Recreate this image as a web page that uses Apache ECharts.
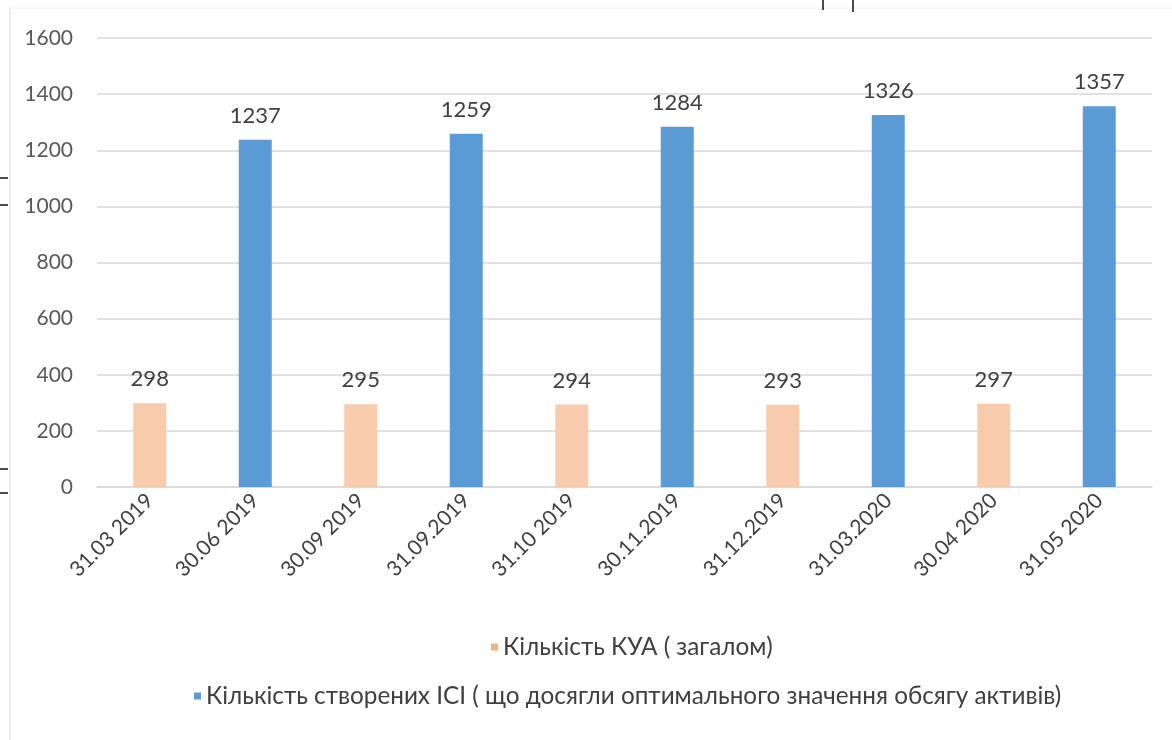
<!DOCTYPE html>
<html>
<head>
<meta charset="utf-8">
<script src="https://cdn.jsdelivr.net/npm/echarts@6/dist/echarts.min.js"></script>
<style>
  html, body { margin: 0; padding: 0; background: #ffffff; }
  #chart { width: 1172px; height: 740px; }
</style>
</head>
<body>
<div id="chart"></div>
<script>
// Reporting dates
const categories = ['31.03 2019', '30.06 2019', '30.09 2019', '31.09.2019', '31.10 2019',
                    '30.11.2019', '31.12.2019', '31.03.2020', '30.04 2020', '31.05 2020'];
// Number of asset management companies (total)
const kuaValues = [298, null, 295, null, 294, null, 293, null, 297, null];
// Number of created collective investment institutions
const iciValues = [null, 1237, null, 1259, null, 1284, null, 1326, null, 1357];
const yTicks = { min: 0, max: 1600, interval: 200 };

const kuaName = 'Кількість КУА ( загалом)';
const iciName = 'Кількість створених ІСІ ( що досягли оптимального значення обсягу активів)';

const FONT = 'Lato, "Noto Sans", sans-serif';

const chart = echarts.init(document.getElementById('chart'), null, { renderer: 'canvas' });

const valueLabel = {
  show: true,
  position: 'top',
  distance: 13,
  color: '#404040',
  fontSize: 22,
  fontFamily: FONT
};

const legendText = { color: '#404040', fontSize: 24.3, fontFamily: FONT };

chart.setOption({
  backgroundColor: '#ffffff',
  animation: false,
  grid: { left: 97, right: 20, top: 38, bottom: 253, containLabel: false },
  legend: [
    {
      data: [{ name: kuaName, itemStyle: { color: '#f4b183' } }],
      left: 486, top: 630,
      icon: 'rect', itemWidth: 7, itemHeight: 7,
      textStyle: legendText
    },
    {
      data: [{ name: iciName, itemStyle: { color: '#5b9bd5' } }],
      left: 189, top: 679,
      icon: 'rect', itemWidth: 7, itemHeight: 7,
      textStyle: legendText
    }
  ],
  xAxis: {
    type: 'category',
    data: categories,
    axisLine: { show: true, lineStyle: { color: '#d9d9d9', width: 1.5 } },
    axisTick: { show: false },
    axisLabel: {
      rotate: 45, margin: 10, interval: 0,
      color: '#404040', fontSize: 21, fontFamily: FONT
    }
  },
  yAxis: {
    type: 'value',
    min: yTicks.min, max: yTicks.max, interval: yTicks.interval,
    axisLine: { show: false },
    axisTick: { show: false },
    splitLine: { lineStyle: { color: '#d9d9d9', width: 1.5 } },
    axisLabel: {
      margin: 24, color: '#595959', fontSize: 21, fontFamily: FONT,
      formatter: (v) => String(v)
    }
  },
  series: [
    {
      name: kuaName, type: 'bar', stack: 'one', data: kuaValues,
      barWidth: 33,
      itemStyle: { color: '#f8cbad' },
      label: valueLabel
    },
    {
      name: iciName, type: 'bar', stack: 'one', data: iciValues,
      barWidth: 33,
      itemStyle: { color: '#5b9bd5' },
      label: valueLabel
    }
  ],
  graphic: [
    // page border and binding marks along the edges
    { type: 'line', shape: { x1: 10, y1: 8, x2: 10, y2: 740 }, style: { stroke: '#e6e6e6', lineWidth: 1.5 } },
    { type: 'line', shape: { x1: 10, y1: 8, x2: 1172, y2: 8 }, style: { stroke: '#eeeeee', lineWidth: 1 } },
    { type: 'line', shape: { x1: 823, y1: 0, x2: 823, y2: 10 }, style: { stroke: '#111', lineWidth: 1.5 } },
    { type: 'line', shape: { x1: 853, y1: 0, x2: 853, y2: 12 }, style: { stroke: '#111', lineWidth: 1.5 } },
    { type: 'line', shape: { x1: 0, y1: 178, x2: 8, y2: 178 }, style: { stroke: '#111', lineWidth: 1.5 } },
    { type: 'line', shape: { x1: 0, y1: 205, x2: 8, y2: 205 }, style: { stroke: '#111', lineWidth: 1.5 } },
    { type: 'line', shape: { x1: 0, y1: 469, x2: 8, y2: 469 }, style: { stroke: '#111', lineWidth: 1.5 } },
    { type: 'line', shape: { x1: 0, y1: 493, x2: 8, y2: 493 }, style: { stroke: '#111', lineWidth: 1.5 } }
  ]
});
</script>
</body>
</html>
